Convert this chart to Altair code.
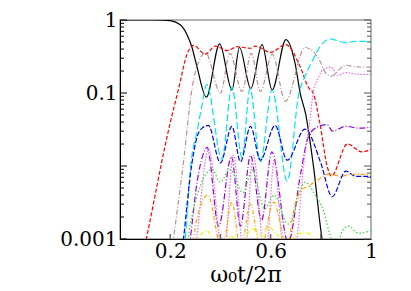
import altair as alt
import pandas as pd

# ---- data (t = omega0 t / 2pi, p = population) ----
black_t = [0.0, 0.1, 0.17, 0.2, 0.24, 0.267, 0.287, 0.307, 0.344, 0.397, 0.446, 0.476, 0.521, 0.566, 0.606, 0.661, 0.698, 0.718, 0.74, 0.771, 0.805, 0.83]
black_p = [1, 1, 0.998, 0.98, 0.86, 0.63, 0.42, 0.226, 0.088, 0.47, 0.11, 0.42, 0.115, 0.46, 0.11, 0.54, 0.25, 0.099, 0.051, 0.0098, 0.001, 0.0004]

red_t = [0.09, 0.105, 0.2, 0.234, 0.267, 0.293, 0.34, 0.38, 0.427, 0.466, 0.52, 0.54, 0.6, 0.66, 0.72, 0.75, 0.77, 0.798, 0.825, 0.842, 0.906, 0.964, 1.0]
red_p = [0.00056, 0.001, 0.039, 0.116, 0.34, 0.45, 0.34, 0.44, 0.38, 0.43, 0.41, 0.44, 0.36, 0.46, 0.22, 0.12, 0.099, 0.0356, 0.01, 0.0073, 0.02, 0.0156, 0.017]

brown_t = [0.2, 0.213, 0.253, 0.287, 0.32, 0.34, 0.4, 0.438, 0.486, 0.523, 0.559, 0.607, 0.659, 0.737, 0.8, 0.818, 0.84, 0.9, 0.94, 1.0]
brown_p = [0.00045, 0.001, 0.0114, 0.116, 0.3, 0.36, 0.1, 0.35, 0.105, 0.35, 0.105, 0.34, 0.077, 0.42, 0.26, 0.19, 0.17, 0.24, 0.228, 0.226]

cyan_t = [0.25, 0.26, 0.283, 0.307, 0.327, 0.345, 0.406, 0.446, 0.486, 0.518, 0.559, 0.606, 0.666, 0.713, 0.737, 0.765, 0.8, 0.837, 0.896, 0.94, 1.0]
cyan_p = [0.0004, 0.001, 0.011, 0.03, 0.069, 0.13, 0.0125, 0.12, 0.013, 0.115, 0.0114, 0.11, 0.0062, 0.1, 0.17, 0.27, 0.45, 0.55, 0.49, 0.51, 0.51]

blue_t = [0.24, 0.253, 0.285, 0.307, 0.327, 0.352, 0.4, 0.446, 0.48, 0.52, 0.559, 0.618, 0.666, 0.737, 0.8, 0.845, 0.9, 0.94, 1.0]
blue_p = [0.0004, 0.001, 0.01, 0.025, 0.033, 0.036, 0.011, 0.035, 0.0114, 0.035, 0.012, 0.036, 0.012, 0.032, 0.011, 0.0038, 0.0085, 0.0072, 0.0072]

purple_t = [0.265, 0.28, 0.307, 0.33, 0.347, 0.393, 0.444, 0.48, 0.52, 0.564, 0.605, 0.67, 0.72, 0.75, 0.785, 0.825, 0.847, 0.9, 0.95, 1.0]
purple_p = [0.0004, 0.001, 0.006, 0.014, 0.018, 0.0015, 0.0135, 0.0015, 0.014, 0.0018, 0.0156, 0.0009, 0.008, 0.025, 0.034, 0.037, 0.03, 0.035, 0.033, 0.034]

violet_t = [0.29, 0.305, 0.353, 0.412, 0.452, 0.495, 0.531, 0.579, 0.615, 0.645, 0.68, 0.705, 0.731, 0.758, 0.771, 0.786, 0.81, 0.84, 0.868, 0.9, 0.957, 1.0]
violet_p = [0.0004, 0.001, 0.017, 0.0005, 0.014, 0.0005, 0.014, 0.0005, 0.012, 0.001, 0.0004, 0.001, 0.01, 0.046, 0.11, 0.15, 0.21, 0.226, 0.175, 0.19, 0.18, 0.18]

green_t = [0.26, 0.272, 0.303, 0.335, 0.367, 0.399, 0.438, 0.49, 0.526, 0.577, 0.613, 0.67, 0.738, 0.778, 0.81, 0.842, 0.862, 0.886, 0.91, 0.95, 1.0]
green_p = [0.0004, 0.001, 0.0035, 0.007, 0.009, 0.006, 0.009, 0.0043, 0.0088, 0.0026, 0.004, 0.0016, 0.006, 0.004, 0.0025, 0.001, 0.0008, 0.0013, 0.0015, 0.0012, 0.0013]

orange_t = [0.28, 0.293, 0.32, 0.35, 0.406, 0.446, 0.48, 0.52, 0.56, 0.612, 0.665, 0.697, 0.72, 0.75, 0.785, 0.81, 0.835, 0.88, 0.92, 1.0]
orange_p = [0.0004, 0.001, 0.0028, 0.004, 0.0007, 0.0032, 0.0007, 0.003, 0.0007, 0.0032, 0.0008, 0.003, 0.0046, 0.0053, 0.0063, 0.0073, 0.0078, 0.0072, 0.0077, 0.0077]

yellow_t = [0.29, 0.3, 0.345, 0.39, 0.44, 0.48, 0.525, 0.565, 0.59, 0.62, 0.66, 0.72, 0.745, 0.78, 0.8]
yellow_p = [0.0005, 0.0008, 0.0013, 0.0008, 0.0011, 0.0008, 0.0014, 0.0011, 0.0015, 0.0012, 0.0009, 0.0012, 0.0012, 0.0009, 0.0006]

x_label_values = [0.2, 0.6, 1.0]
x_tick_values = [0.2, 0.4, 0.6, 0.8]
y_label_values = [1, 0.1, 0.001]
y_major_ticks = [1, 0.1, 0.01, 0.001]
y_minor_ticks = [k * 10.0 ** d for d in (-3, -2, -1) for k in range(2, 10)]

W, H = 251, 219
FONT = "DejaVu Serif"

xscale = alt.Scale(domain=[0, 1], nice=False, zero=False)
yscale = alt.Scale(type="log", domain=[0.001, 1], nice=False)

X = alt.X("t:Q", scale=xscale,
          axis=alt.Axis(values=x_label_values, format="~g", ticks=False, grid=False,
                        domainColor="black", labelFlush=False, labelFont=FONT,
                        labelFontSize=20, labelColor="black", labelPadding=2,
                        title="ω₀t/2π", titleFont=FONT, titleFontSize=22,
                        titleFontWeight="normal", titleColor="black", titlePadding=3))
Y = alt.Y("p:Q", scale=yscale,
          axis=alt.Axis(values=y_label_values, format="~g", ticks=False, grid=False,
                        domainColor="black", labelFont=FONT, labelFontSize=20,
                        labelColor="black", labelPadding=3, title=None))

series = [
    (black_t, black_p, "#000000", None),
    (red_t, red_p, "#ff0000", [4, 2]),
    (brown_t, brown_p, "#bc8f8f", [5, 2, 1, 2]),
    (cyan_t, cyan_p, "#00e5ee", [7, 3]),
    (blue_t, blue_p, "#0000ff", [5, 2]),
    (purple_t, purple_p, "#9400d3", [6, 2, 1, 2]),
    (violet_t, violet_p, "#ee66ee", [1.5, 1.5]),
    (green_t, green_p, "#33dd33", [1.5, 2]),
    (orange_t, orange_p, "#ffa500", [4, 2, 1, 2]),
    (yellow_t, yellow_p, "#f2f200", [4, 2, 1, 2]),
]

layers = []
for t, p, col, dash in series:
    kw = dict(color=col, strokeWidth=1.2, clip=True, interpolate="monotone")
    if dash:
        kw["strokeDash"] = dash
    layers.append(alt.Chart(pd.DataFrame({"t": t, "p": p})).mark_line(**kw).encode(x=X, y=Y))

# inward ticks
ymaj = pd.DataFrame({"p": y_major_ticks})
ymin = pd.DataFrame({"p": y_minor_ticks})
xt = pd.DataFrame({"t": x_tick_values})
for df, ln in ((ymaj, 7), (ymin, 4)):
    layers.append(alt.Chart(df).mark_rule(color="black", strokeWidth=1).encode(
        y=alt.Y("p:Q", scale=yscale), x=alt.value(0), x2=alt.value(ln)))
    layers.append(alt.Chart(df).mark_rule(color="#555555", strokeWidth=1).encode(
        y=alt.Y("p:Q", scale=yscale), x=alt.value(W), x2=alt.value(W - ln)))
layers.append(alt.Chart(xt).mark_rule(color="#666666", strokeWidth=1.5).encode(
    x=alt.X("t:Q", scale=xscale), y=alt.value(H), y2=alt.value(H - 5)))

chart = alt.layer(*layers).properties(
    width=W, height=H,
    autosize=alt.AutoSizeParams(type="none"),
    padding={"left": 112, "top": 12, "right": 32, "bottom": 52},
).configure_view(stroke="#999999", strokeWidth=1.5)

chart.save("out.html", embed_options={"renderer": "svg", "actions": False})
